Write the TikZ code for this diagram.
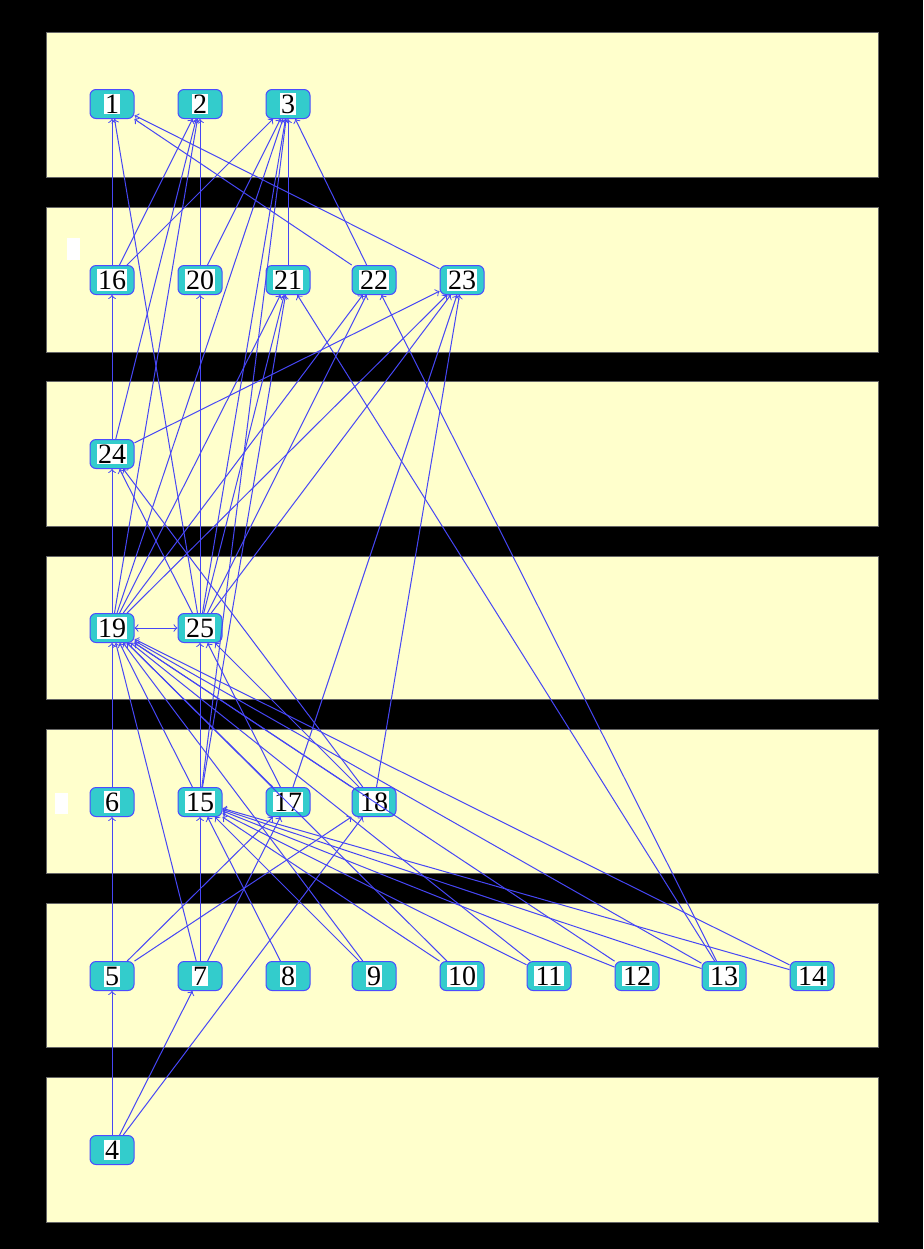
\documentclass[tikz,border=0pt]{standalone}
\usepackage{fontspec}
\setmainfont{Liberation Serif}
\usepackage{tikz}
\usetikzlibrary{arrows, positioning}
\definecolor{bandyellow}{RGB}{255,255,204}
\definecolor{vtxcyan}{RGB}{51,204,204}
\definecolor{edgeblue}{RGB}{70,70,245}
\tikzset{
    band/.style={fill=bandyellow, draw=black!60, line width=0.3pt},
    vtx/.style={rectangle, rounded corners=3pt, minimum width=22pt, minimum height=14.5pt, inner sep=0pt, align=center, draw=blue!70, line width=0.5pt, fill=vtxcyan, font=\fontsize{14}{14}\selectfont},
    edge/.style={->, >=to, edgeblue, line width=0.5pt},
    bothedge/.style={<->, >=to, edgeblue, line width=0.5pt}
}
\setlength{\fboxsep}{0.6pt}
\newcommand{\vlabel}[1]{\colorbox{white}{#1}}

\begin{document}
\begin{tikzpicture}[x=0.5pt, y=-0.5pt]
    % Background and layer bands
    \fill[black] (0,0) rectangle (923,1249);
    \useasboundingbox (0,0) rectangle (923,1249);
    \foreach \top/\bot in {32/177, 207/352, 381/526, 556/699, 729/873, 903/1047, 1077/1222} {
        \draw[band] (46,\top) rectangle (878,\bot);
    }
    % Small white marks at the left
    \fill[white] (67,238) rectangle (80,260);
    \fill[white] (55,793) rectangle (68,814);

    % Vertices
    \foreach \n/\x/\y in {1/112/104, 2/200/104, 3/288/104,
                          16/112/280, 20/200/280, 21/288/280, 22/374/280, 23/462/280,
                          24/112/454,
                          19/112/628, 25/200/628,
                          6/112/802, 15/200/802, 17/288/802, 18/374/802,
                          5/112/976, 7/200/976, 8/288/976, 9/374/976, 10/462/976,
                          11/549/976, 12/637/976, 13/724/976, 14/812/976,
                          4/112/1150} {
        \node[vtx] (n\n) at (\x,\y) {\vlabel{\n}};
    }

    % Connectors, source/target
    \foreach \a/\b in {4/5, 4/7, 4/18,
                       5/6, 5/17, 5/18,
                       6/19,
                       7/15, 7/17, 7/19,
                       8/15,
                       9/15, 9/19,
                       10/15, 10/19,
                       11/15, 11/19,
                       12/15, 12/19,
                       13/15, 13/19, 13/21, 13/22,
                       14/15, 14/19,
                       15/19, 15/25, 15/3, 15/21,
                       17/19, 17/25, 17/23,
                       18/19, 18/24, 18/25, 18/23,
                       19/24, 19/2, 19/3, 19/21, 19/22, 19/23,
                       25/20, 25/1, 25/24, 25/3, 25/21, 25/22, 25/23,
                       24/16, 24/2, 24/23,
                       16/1, 16/2, 16/3,
                       20/2, 20/3,
                       21/3,
                       22/1, 22/3,
                       23/1} {
        \draw[edge] (n\a) -- (n\b);
    }
    \draw[bothedge] (n19) -- (n25);
\end{tikzpicture}
\end{document}
